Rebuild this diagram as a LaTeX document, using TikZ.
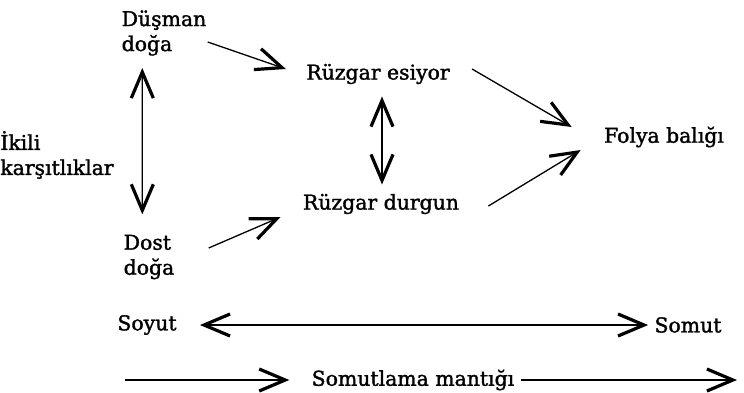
\documentclass[tikz,border=0pt]{standalone}
\usepackage{fontspec}
\setmainfont{DejaVu Serif}[FakeBold=1.6]
\usetikzlibrary{arrows.meta}
\begin{document}
\begin{tikzpicture}[x=0.5pt, y=-0.5pt,
    every node/.style={font=\fontsize{10.2}{12.5}\selectfont, inner sep=2pt, align=left},
    arr/.style={line width=0.65pt, -{Straight Barb[length=13pt, width=11pt, line width=1.6pt]}},
    dbl/.style={line width=0.65pt, {Straight Barb[length=13pt, width=11pt, line width=1.6pt]}-{Straight Barb[length=13pt, width=11pt, line width=1.6pt]}}]
  \useasboundingbox (0,0) rectangle (744,392);
  \node (dusman) at (164,33) {Düşman\\doğa};
  \node (dost) at (149,257) {Dost\\doğa};
  \node (ikili) at (57,155) {İkili\\karşıtlıklar};
  \node (esiyor) at (378,74) {Rüzgar esiyor};
  \node (durgun) at (381,204) {Rüzgar durgun};
  \node (folya) at (664,137) {Folya balığı};
  \node (soyut) at (147,325) {Soyut};
  \node (somut) at (688,325) {Somut};
  \node (mantik) at (413,380) {Somutlama mantığı};
  \coordinate (basla) at (125,380);
  \coordinate (bitir) at (737,380);
  \draw[arr] ([xshift=-1.5pt, yshift=-4.5pt]dusman.east) -- ([xshift=-8pt, yshift=2.5pt]esiyor.west);
  \draw[arr] ([xshift=15pt, yshift=4.5pt]dost.east) -- ([xshift=-9pt, yshift=-6.5pt]durgun.west);
  \draw[arr] ([xshift=9pt, yshift=2.5pt]esiyor.east) -- ([xshift=-14pt, yshift=5pt]folya.west);
  \draw[arr] ([xshift=12.5pt, yshift=-1pt]durgun.east) -- ([xshift=-9.5pt, yshift=-6.5pt]folya.west);
  \draw[dbl] ([xshift=12.5pt, yshift=-4pt]dusman.south west) -- ([xshift=11.5pt, yshift=8pt]dost.north west);
  \draw[dbl] ([xshift=2pt, yshift=-4pt]esiyor.south) -- ([xshift=0.5pt, yshift=2.5pt]durgun.north);
  \draw[dbl] ([xshift=9.5pt]soyut.east) -- ([xshift=-1pt]somut.west);
  \draw[arr] (basla) -- ([xshift=-9pt]mantik.west);
  \draw[arr] ([xshift=1pt]mantik.east) -- (bitir);
\end{tikzpicture}
\end{document}
